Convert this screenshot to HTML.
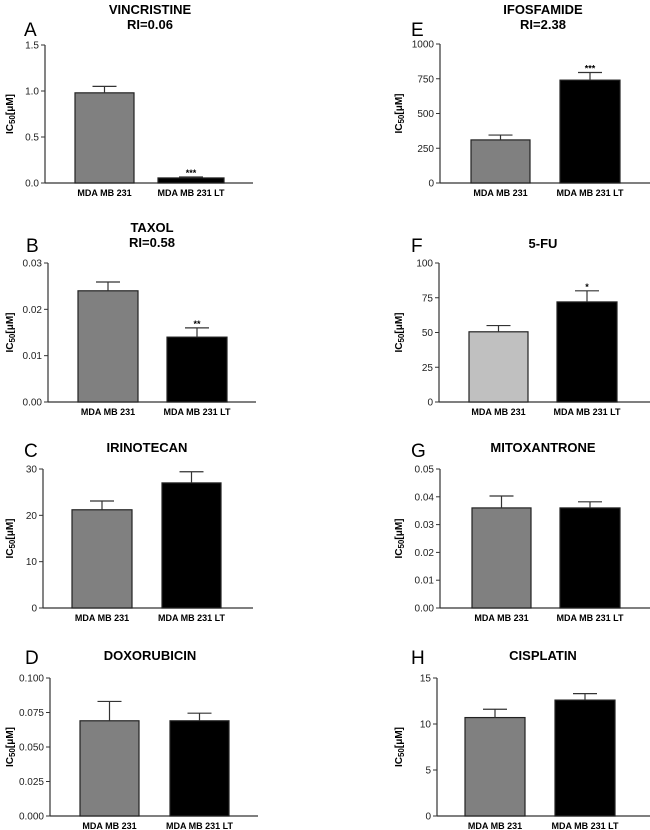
<!DOCTYPE html>
<html><head><meta charset="utf-8"><style>
body{margin:0;background:#fff}
svg{display:block;font-family:"Liberation Sans",sans-serif}
</style></head><body>
<svg id="fig" width="650" height="830" viewBox="0 0 650 830"></svg>
<script>
const categories=["MDA MB 231","MDA MB 231 LT"];
const panelLetters=["A","B","C","D","E","F","G","H"];
const titles=[["VINCRISTINE","RI=0.06"],["TAXOL","RI=0.58"],["IRINOTECAN"],["DOXORUBICIN"],["IFOSFAMIDE","RI=2.38"],["5-FU"],["MITOXANTRONE"],["CISPLATIN"]];
const parentMeans=[0.98,0.024,21.2,0.069,310,50.5,0.036,10.7];
const parentErrs=[0.07,0.0019,1.9,0.014,35,4.5,0.0043,0.9];
const ltMeans=[0.055,0.014,27,0.069,740,72,0.036,12.6];
const ltErrs=[0.01,0.002,2.4,0.0055,55,8,0.0022,0.7];
const stars=["***","**","","","***","*","",""];
const yMax=[1.5,0.03,30,0.1,1000,100,0.05,15];
const tickLabelsA=["0.0","0.5","1.0","1.5"];
const tickLabelsB=["0.00","0.01","0.02","0.03"];
const tickLabelsC=["0","10","20","30"];
const tickLabelsD=["0.000","0.025","0.050","0.075","0.100"];
const tickLabelsE=["0","250","500","750","1000"];
const tickLabelsF=["0","25","50","75","100"];
const tickLabelsG=["0.00","0.01","0.02","0.03","0.04","0.05"];
const tickLabelsH=["0","5","10","15"];
const tickLabels=[tickLabelsA,tickLabelsB,tickLabelsC,tickLabelsD,tickLabelsE,tickLabelsF,tickLabelsG,tickLabelsH];
const parentColors=["#808080","#808080","#808080","#808080","#808080","#c0c0c0","#808080","#808080"];

// layout (geometry, not data)
const L=[
 {ax:45,top:45,bot:183,end:253,b1:[75,134],b2:[158,224],tx:150,lx:24,ly:36,ttl:14,tyx:13},
 {ax:48,top:263,bot:402,end:256,b1:[78,138],b2:[167,227],tx:152,lx:26,ly:252,ttl:232,tyx:13},
 {ax:43,top:469,bot:608,end:253,b1:[72,132],b2:[162,221],tx:147,lx:24,ly:457,ttl:452,tyx:13},
 {ax:50,top:678,bot:816,end:258,b1:[80,139],b2:[170,229],tx:150,lx:25,ly:664,ttl:660,tyx:13},
 {ax:440,top:44,bot:183,end:650,b1:[471,530],b2:[560,620],tx:543,lx:411,ly:36,ttl:14,tyx:402},
 {ax:439,top:263,bot:402,end:650,b1:[469,528],b2:[557,617],tx:543,lx:411,ly:252,ttl:248,tyx:402},
 {ax:440,top:469,bot:608,end:650,b1:[472,531],b2:[560,620],tx:543,lx:411,ly:457,ttl:452,tyx:402},
 {ax:437,top:678,bot:816,end:650,b1:[465,525],b2:[555,615],tx:543,lx:411,ly:664,ttl:660,tyx:402}
];
const NS="http://www.w3.org/2000/svg";
const svg=document.getElementById('fig');
function mk(tag,attrs,parent,text){const e=document.createElementNS(NS,tag);for(const k in attrs)e.setAttribute(k,attrs[k]);if(text!==undefined)e.textContent=text;parent.appendChild(e);return e;}
for(let p=0;p<8;p++){
 const g=L[p];
 const grp=mk('g',{},svg);
 
 
 const y=v=>g.bot-(v/yMax[p])*(g.bot-g.top);
 const let_=mk('text',{x:g.lx,y:g.ly,'font-size':19},grp,panelLetters[p]);
 
 
 titles[p].forEach((t,i)=>{
  const te=mk('text',{x:g.tx,y:g.ttl+i*15,'font-size':13,'font-weight':'bold','text-anchor':'middle'},grp,t);
  
  
 });
 // axes
 const ya=mk('line',{x1:g.ax,y1:g.top,x2:g.ax,y2:g.bot,stroke:'#333','stroke-width':1.2},grp);
 
 
 const xa=mk('line',{x1:g.ax,y1:g.bot,x2:g.end,y2:g.bot,stroke:'#333','stroke-width':1.2},grp);
 
 
 const tl=tickLabels[p];
 tl.forEach((lab,i)=>{
  const v=yMax[p]*i/(tl.length-1);
  const yy=y(v);
  mk('line',{x1:g.ax-4,y1:yy,x2:g.ax,y2:yy,stroke:'#333','stroke-width':1},grp);
  const t=mk('text',{x:g.ax-6,y:yy+3.5,'font-size':10,'text-anchor':'end',fill:'#222'},grp,lab);
  
  
 });
 const yc=(g.top+g.bot)/2;
 const yt=mk('text',{x:g.tyx,y:yc,'font-size':10,'font-weight':'bold','text-anchor':'middle',transform:`rotate(-90 ${g.tyx} ${yc})`},grp);
 
 
 mk('tspan',{},yt,'IC');
 mk('tspan',{'font-size':8,dy:2},yt,'50');
 mk('tspan',{dy:-2},yt,'[μM]');
 const bars=[[g.b1,parentMeans[p],parentErrs[p],parentColors[p]],[g.b2,ltMeans[p],ltErrs[p],'#000']];
 bars.forEach((b,i)=>{
  const [xr,m,e,c]=b;
  const cx=(xr[0]+xr[1])/2, w=xr[1]-xr[0];
  const r=mk('rect',{x:xr[0],y:y(m),width:w,height:g.bot-y(m),fill:c,stroke:'#222','stroke-width':1.2},grp);
  
  
  mk('line',{x1:cx,y1:y(m),x2:cx,y2:y(m+e),stroke:'#333','stroke-width':1.2},grp);
  const eb=mk('line',{x1:cx-12,y1:y(m+e),x2:cx+12,y2:y(m+e),stroke:'#333','stroke-width':1.2},grp);
  
  
  const xl=mk('text',{x:cx,y:g.bot+13,'font-size':9,'font-weight':'bold','text-anchor':'middle'},grp,categories[i]);
  
  
  if(i===1&&stars[p]){
   const s=mk('text',{x:cx,y:y(m+e)-1,'font-size':9,'font-weight':'bold','text-anchor':'middle'},grp,stars[p]);
   
   
  }
 });
}
</script>
</body></html>
